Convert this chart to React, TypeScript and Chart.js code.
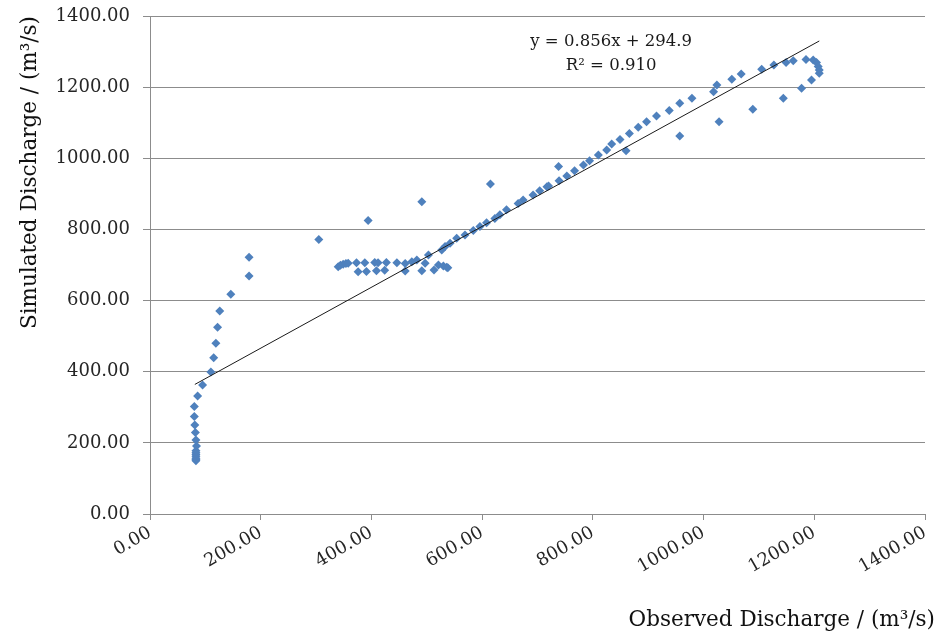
import { useEffect, useRef } from 'react';
import { Chart, registerables } from 'chart.js';

Chart.register(...registerables);

// Observed discharge (m3/s) — x values of the scatter points
const observed: number[] = [
  83, 83, 83, 83, 83, 83, 83, 84, 83, 82, 81, 80, 80, 86, 95, 110, 115, 119, 122, 126, 146, 179, 179,
  305, 394, 491, 615,
  340, 344, 349, 354, 358, 373, 388, 406, 412, 427, 446, 461, 473, 482, 497, 503,
  376, 391, 409, 424, 461, 491, 513, 521, 530, 536, 538,
  527, 533, 542, 554, 569, 584, 596, 608, 623, 632, 644, 665, 674, 692, 704, 717, 720, 739, 738, 753,
  767, 783, 794, 810, 825, 834, 849, 860, 866, 882, 897, 915, 938, 957, 957, 979, 1018, 1024, 1028,
  1051, 1068, 1089, 1105, 1127, 1144, 1149, 1162, 1177, 1185, 1195, 1198, 1204, 1207, 1209, 1209,
];

// Simulated discharge (m3/s) — y values of the scatter points
const simulated: number[] = [
  150, 153, 157, 162, 167, 172, 178, 191, 208, 229, 250, 274, 302, 332, 363, 399, 439, 480, 525, 571, 618, 669, 722,
  772, 825, 878, 928,
  695, 699, 702, 704, 705, 706, 706, 707, 706, 707, 706, 704, 709, 714, 705, 728,
  681, 682, 684, 685, 683, 684, 686, 700, 697, 694, 692,
  742, 752, 761, 775, 784, 797, 808, 819, 831, 841, 855, 873, 883, 897, 909, 920, 922, 937, 977, 950,
  965, 981, 993, 1009, 1023, 1040, 1053, 1021, 1070, 1087, 1103, 1119, 1134, 1155, 1063, 1169, 1187, 1206, 1103,
  1222, 1237, 1138, 1250, 1262, 1169, 1269, 1274, 1197, 1278, 1220, 1276, 1269, 1258, 1248, 1239,
];

const axisTicks: number[] = [0, 200, 400, 600, 800, 1000, 1200, 1400];
const slope = 0.856;
const intercept = 294.9;
const rSquared = 0.91;
const trendRange: number[] = [81, 1209];
const xTitle = 'Observed Discharge / (m³/s)';
const yTitle = 'Simulated Discharge / (m³/s)';

const FONT = "'DejaVu Serif', 'Liberation Serif', serif";

export default function App() {
  const ref = useRef<HTMLCanvasElement>(null);

  useEffect(() => {
    if (!ref.current) return;
    const points = observed.map((x, i) => ({ x, y: simulated[i] }));
    const trend = trendRange.map((x) => ({ x, y: slope * x + intercept }));

    const textPlugin = {
      id: 'texts',
      afterDraw(chart: any) {
        const ctx = chart.ctx;
        const xs = chart.scales.x;
        const ys = chart.scales.y;
        const cx = xs.getPixelForValue(833);
        ctx.save();
        ctx.fillStyle = '#1a1a1a';
        ctx.font = `16.5px ${FONT}`;
        ctx.textAlign = 'center';
        ctx.textBaseline = 'middle';
        ctx.fillText(`y = ${slope.toFixed(3)}x + ${intercept.toFixed(1)}`, cx, ys.getPixelForValue(1327));
        ctx.fillText(`R² = ${rSquared.toFixed(3)}`, cx, ys.getPixelForValue(1260));
        // x-axis title, right-aligned past the plot edge as in the reference
        ctx.fillStyle = '#111';
        ctx.font = `21.5px ${FONT}`;
        ctx.textAlign = 'right';
        ctx.fillText(xTitle, xs.right + 10, chart.height - 14);
        ctx.restore();
      },
    };

    const chart = new Chart(ref.current, {
      type: 'scatter',
      data: {
        datasets: [
          {
            type: 'line',
            label: 'Trend',
            data: trend,
            borderColor: '#1a1a1a',
            borderWidth: 1,
            pointRadius: 0,
            showLine: true,
            fill: false,
            order: 0,
          } as any,
          {
            label: 'Discharge',
            data: points,
            pointStyle: 'rectRot',
            pointRadius: 4.5,
            backgroundColor: '#4F81BD',
            borderColor: '#4F81BD',
            borderWidth: 0,
            order: 1,
          },
        ],
      },
      options: {
        responsive: false,
        animation: false,
        layout: { padding: { left: 0, top: 16, right: 25, bottom: 0 } },
        plugins: { legend: { display: false }, tooltip: { enabled: false } },
        scales: {
          x: {
            type: 'linear',
            min: 0,
            max: 1400,
            afterBuildTicks: (scale: any) => {
              scale.ticks = axisTicks.map((v) => ({ value: v }));
            },
            afterFit: (scale: any) => {
              scale.height = 120;
              scale.paddingLeft = 0;
              scale.paddingRight = 0;
            },
            ticks: {
              callback: (v: any) => Number(v).toFixed(2),
              minRotation: 30,
              maxRotation: 30,
              padding: 2,
              color: '#262626',
              font: { family: FONT, size: 18 },
            },
            grid: {
              drawOnChartArea: false,
              drawTicks: true,
              tickLength: 6,
              color: '#8c8c8c',
            },
            border: { color: '#8c8c8c', width: 1 },
            title: { display: false },
          },
          y: {
            type: 'linear',
            min: 0,
            max: 1400,
            afterBuildTicks: (scale: any) => {
              scale.ticks = axisTicks.map((v) => ({ value: v }));
            },
            afterFit: (scale: any) => {
              scale.width = 150;
              scale.paddingTop = 0;
              scale.paddingBottom = 0;
            },
            ticks: {
              callback: (v: any) => Number(v).toFixed(2),
              padding: 13,
              color: '#262626',
              font: { family: FONT, size: 18 },
            },
            grid: {
              drawTicks: true,
              tickLength: 7,
              color: '#8c8c8c',
            },
            border: { color: '#8c8c8c', width: 1 },
            title: {
              display: true,
              text: yTitle,
              align: 'end',
              color: '#111',
              font: { family: FONT, size: 21.5 },
              padding: { top: 18, bottom: 4 },
            },
          },
        },
      } as any,
      plugins: [textPlugin],
    });

    return () => chart.destroy();
  }, []);

  return (
    <div style={{ position: 'absolute', left: 0, top: 0, width: 950, height: 634, background: '#fff' }}>
      <canvas ref={ref} width={950} height={634} style={{ display: 'block' }} />
    </div>
  );
}
